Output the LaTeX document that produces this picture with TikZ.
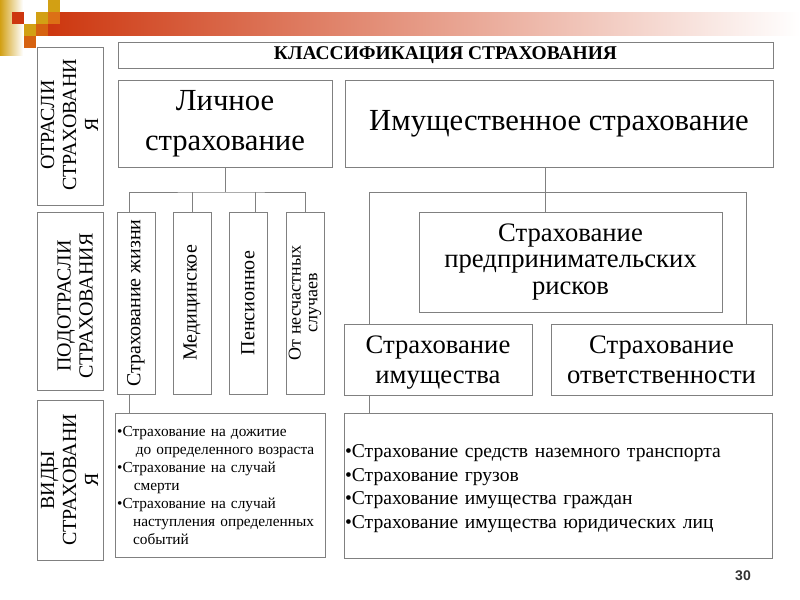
\documentclass[tikz,border=0pt]{standalone}
\usepackage{fontspec}
\setmainfont{Liberation Serif}
\newfontfamily\numfont{Liberation Sans}
\definecolor{frame}{RGB}{128,128,128}
\definecolor{gold}{RGB}{210,160,20}
\definecolor{barred}{RGB}{205,55,15}
\definecolor{barmid}{RGB}{225,125,95}
\definecolor{orA}{RGB}{220,112,22}
\definecolor{orB}{RGB}{214,98,16}
\definecolor{pagenum}{RGB}{50,50,50}
\begin{document}
\begin{tikzpicture}[x=0.75pt,y=-0.75pt,
  box/.style={draw=frame, line width=0.75pt, inner sep=0pt, align=center},
  wh/.style 2 args={minimum width=#1*0.75pt, minimum height=#2*0.75pt},
  conn/.style={draw=frame, line width=0.75pt},
  vtext/.style={rotate=90, align=center, inner sep=0pt},
  big/.style={font=\fontsize{23}{30}\selectfont},
  mid/.style={font=\fontsize{20}{22.5}\selectfont},
  lab/.style={vtext, font=\fontsize{15}{16.5}\selectfont},
  sub/.style={vtext, font=\fontsize{15}{17}\selectfont}]
\useasboundingbox (0,0) rectangle (800,600);
% decoration
\shade[left color=gold, right color=white] (0,0) rectangle (23,55);
\shade[left color=barred, middle color=barmid, right color=white] (48,12) rectangle (800,35);
\fill[gold] (48,0) rectangle (60,12);
\fill[barred] (12,12) rectangle (24,24);
\fill[gold] (36,12) rectangle (48,24);
\fill[orA] (48,12) rectangle (60,24);
\fill[gold] (24,24) rectangle (36,36);
\fill[orB] (36,24) rectangle (48,36);
\fill[orB] (24,36) rectangle (36,48);
% title
\node[box, wh={655}{26}, font=\bfseries\fontsize{14.6}{16}\selectfont] (title) at (445.5,55) {КЛАССИФИКАЦИЯ СТРАХОВАНИЯ};
% branches
\node[box, wh={214}{87}, big] (lich) at (225,123.5) {Личное\\страхование};
\node[box, wh={428}{87}, big] (imush) at (559,123.5) {Имущественное страхование};
% left labels
\node[box, wh={66}{158}] (otr) at (70,126) {};
\node[lab] (otrt) at (69.5,125) {ОТРАСЛИ\\СТРАХОВАНИ\\Я};
\node[box, wh={66}{178}] (pod) at (70,301) {};
\node[lab] (podt) at (75,306) {ПОДОТРАСЛИ\\СТРАХОВАНИЯ};
\node[box, wh={66}{160}] (vid) at (70,480) {};
\node[lab] (vidt) at (69.5,480) {ВИДЫ\\СТРАХОВАНИ\\Я};
% personal sub-branches
\node[box, wh={38}{182}] (s1) at (136,303) {};
\node[box, wh={38}{182}] (s2) at (192,303) {};
\node[box, wh={38}{182}] (s3) at (248,303) {};
\node[box, wh={38}{182}] (s4) at (305,303) {};
\node[sub] (s1t) at (s1) {Страхование жизни};
\node[sub] (s2t) at (s2) {Медицинское};
\node[sub] (s3t) at (s3) {Пенсионное};
\node[vtext, font=\fontsize{13.5}{12.5}\selectfont] (s4t) at (s4) {От несчастных\\случаев};
% property sub-branches
\node[box, wh={303}{100}, font=\fontsize{20}{19.6}\selectfont] (predpr) at (570.5,262) {Страхование\\предпринимательских\\рисков};
\node[box, wh={188}{71}, mid, text depth=0pt] (imu) at (438,359.5) {Страхование\\имущества};
\node[box, wh={221}{71}, mid] (otv) at (661.5,359.5) {Страхование\\ответственности};
% kinds
\node[box, wh={209}{144}, align=left, text width=155pt, inner xsep=1pt, font=\fontsize{11.5}{13.5}\selectfont] (vl) at (220.5,485) {%
•Страхование на дожитие\\
\hspace*{14pt}до определенного возраста\\
•Страхование на случай\\
\hspace*{12.5pt}смерти\\
•Страхование на случай\\
\hspace*{12pt}наступления определенных\\
\hspace*{12pt}событий};
\node[box, wh={428}{145}] (vr) at (558,485.5) {};
\node[align=left, text width=320pt, inner sep=0pt, anchor=center, font=\fontsize{14.7}{17.6}\selectfont] (vrt) at ([xshift=0.3pt, yshift=-2.3pt]vr.center) {%
•Страхование средств наземного транспорта\\
•Страхование грузов\\
•Страхование имущества граждан\\
•Страхование имущества юридических лиц};
% page number
\node[font=\numfont\bfseries\fontsize{10.5}{12}\selectfont, text=pagenum] (pg) at (743,576) {30};
% connectors personal
\coordinate (hub1) at (225,192);
\coordinate (d1) at ([xshift=-5.25pt]s1.north);
\coordinate (d3) at ([xshift=5.25pt]s3.north);
\draw[conn] (lich.south) -- (hub1);
\draw[conn] (d1) |- (hub1) -| (s4.north);
\draw[conn] (s2.north) -- (s2.north |- hub1);
\draw[conn] (d3) -- (d3 |- hub1);
\draw[conn] (d1 |- s1.south) -- (d1 |- vl.north);
% connectors property
\coordinate (hub2) at (545,192);
\coordinate (l2) at (369,192);
\coordinate (r2) at (746,192);
\draw[conn] (hub2 |- imush.south) -- (hub2 |- predpr.north);
\draw[conn] (l2 |- imu.north) -- (l2) -- (r2) -- (r2 |- otv.north);
\draw[conn] (l2 |- imu.south) -- (l2 |- vr.north);
\end{tikzpicture}
\end{document}
